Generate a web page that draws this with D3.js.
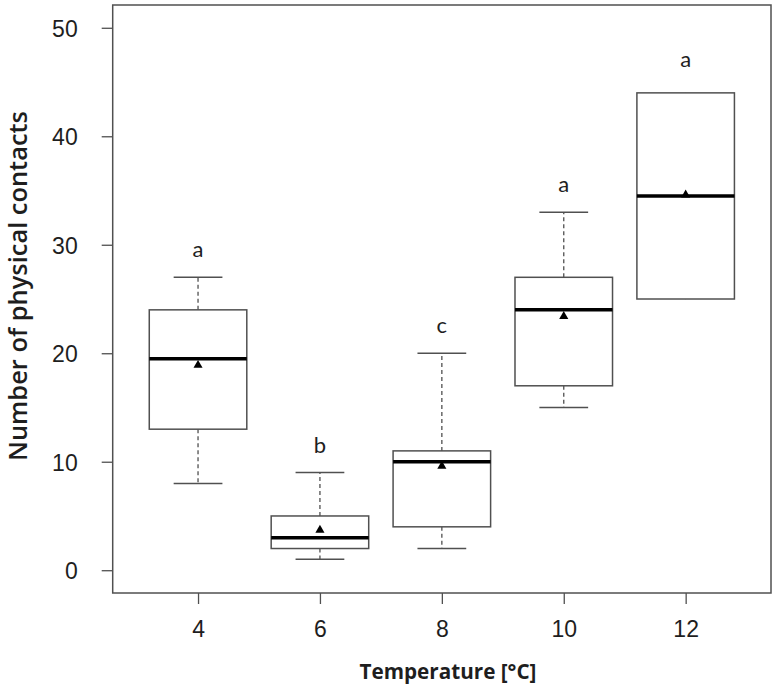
<!DOCTYPE html>
<html>
<head>
<meta charset="utf-8">
<script src="https://cdn.jsdelivr.net/npm/d3@7"></script>
<style>
  html, body { margin: 0; padding: 0; background: #fff; }
  svg { display: block; font-family: Lato, "Open Sans", sans-serif; }
</style>
</head>
<body>
<svg id="chart" width="776" height="689"></svg>
<script>
// ---- data ----
const temps = [4, 6, 8, 10, 12];
const whiskerLow  = [8, 1, 2, 15, 25];
const q1          = [13, 2, 4, 17, 25];
const medians     = [19.5, 3, 10, 24, 34.5];
const q3          = [24, 5, 11, 27, 44];
const whiskerHigh = [27, 9, 20, 33, 44];
const means       = [18.9, 3.7, 9.6, 23.4, 34.6];
const letters     = ["a", "b", "c", "a", "a"];
const letterPos   = [28.85, 10.8, 21.9, 34.9, 46.4];
const yTicks      = [0, 10, 20, 30, 40, 50];
const xTitle = "Temperature [°C]";
const yTitle = "Number of physical contacts";

// ---- layout ----
const svg = d3.select("#chart");
const L = 112.7, R = 771, T = 5, B = 593;
const lineCol = "#505050", textCol = "#1e1e1e";

const x = d3.scaleLinear().domain([0.3, temps.length + 0.7]).range([L, R]);
const y = d3.scaleLinear().domain([-2.1, 52.1]).range([B, T]);
const unit = x(2) - x(1);
const boxW = 0.8 * unit, capW = 0.4 * unit;

const groups = temps.map((t, i) => ({
  t, pos: i + 1, lo: whiskerLow[i], q1: q1[i], med: medians[i], q3: q3[i],
  hi: whiskerHigh[i], mean: means[i], letter: letters[i], lp: letterPos[i]
}));

// axes
const yAxis = d3.axisLeft(y).tickValues(yTicks).tickSize(11).tickSizeOuter(0).tickPadding(24);
const gy = svg.append("g").attr("transform", `translate(${L},0)`).call(yAxis);
gy.select(".domain").remove();
gy.selectAll(".tick line").attr("stroke", lineCol).attr("stroke-width", 1.3);
gy.selectAll(".tick text").attr("fill", textCol).style("font-size", "23px").attr("dy", "0.36em");

const xAxis = d3.axisBottom(x).tickValues(groups.map(g => g.pos))
  .tickFormat((d, i) => temps[i]).tickSize(11).tickSizeOuter(0).tickPadding(17);
const gx = svg.append("g").attr("transform", `translate(0,${B})`).call(xAxis);
gx.select(".domain").remove();
gx.selectAll(".tick line").attr("stroke", lineCol).attr("stroke-width", 1.3);
gx.selectAll(".tick text").attr("fill", textCol).style("font-size", "23px");

// frame
svg.append("rect").attr("x", L).attr("y", T).attr("width", R - L).attr("height", B - T)
  .attr("fill", "none").attr("stroke", lineCol).attr("stroke-width", 1.5);

// boxes
const gb = svg.append("g").selectAll("g").data(groups).join("g");
// whiskers (dashed)
gb.append("line").attr("x1", d => x(d.pos)).attr("x2", d => x(d.pos))
  .attr("y1", d => y(d.q3)).attr("y2", d => y(d.hi))
  .attr("stroke", lineCol).attr("stroke-width", 1.3).attr("stroke-dasharray", "4,3");
gb.append("line").attr("x1", d => x(d.pos)).attr("x2", d => x(d.pos))
  .attr("y1", d => y(d.q1)).attr("y2", d => y(d.lo))
  .attr("stroke", lineCol).attr("stroke-width", 1.3).attr("stroke-dasharray", "4,3");
// caps
gb.filter(d => d.hi > d.q3).append("line")
  .attr("x1", d => x(d.pos) - capW / 2).attr("x2", d => x(d.pos) + capW / 2)
  .attr("y1", d => y(d.hi)).attr("y2", d => y(d.hi))
  .attr("stroke", lineCol).attr("stroke-width", 1.5);
gb.filter(d => d.lo < d.q1).append("line")
  .attr("x1", d => x(d.pos) - capW / 2).attr("x2", d => x(d.pos) + capW / 2)
  .attr("y1", d => y(d.lo)).attr("y2", d => y(d.lo))
  .attr("stroke", lineCol).attr("stroke-width", 1.5);
// box
gb.append("rect").attr("x", d => x(d.pos) - boxW / 2).attr("width", boxW)
  .attr("y", d => y(d.q3)).attr("height", d => y(d.q1) - y(d.q3))
  .attr("fill", "#fff").attr("stroke", lineCol).attr("stroke-width", 1.5);
// median
gb.append("line").attr("x1", d => x(d.pos) - boxW / 2).attr("x2", d => x(d.pos) + boxW / 2)
  .attr("y1", d => y(d.med)).attr("y2", d => y(d.med))
  .attr("stroke", "#000").attr("stroke-width", 3.5);
// mean triangle
gb.append("path").attr("d", d3.symbol(d3.symbolTriangle, 36))
  .attr("transform", d => `translate(${x(d.pos)},${y(d.mean)})`).attr("fill", "#000");
// letters
gb.append("text").attr("x", d => x(d.pos)).attr("y", d => y(d.lp))
  .attr("text-anchor", "middle").attr("fill", textCol).style("font-size", "22px")
  .text(d => d.letter);

// titles
function fit(sel, target, base) {
  const w = sel.node().getComputedTextLength();
  sel.style("font-size", (base * target / w).toFixed(2) + "px");
}
const xt = svg.append("text").attr("x", 448).attr("y", 679).attr("text-anchor", "middle")
  .attr("fill", textCol).style("font-family", "'Open Sans', sans-serif")
  .style("font-weight", "700").style("font-size", "20px").text(xTitle);
fit(xt, 177, 20);
const yt = svg.append("text").attr("transform", "translate(27,286) rotate(-90)")
  .attr("text-anchor", "middle").attr("fill", textCol)
  .style("font-family", "'Open Sans', sans-serif")
  .style("font-weight", "600").style("font-size", "20px").text(yTitle);
fit(yt, 350, 20);
</script>
</body>
</html>
